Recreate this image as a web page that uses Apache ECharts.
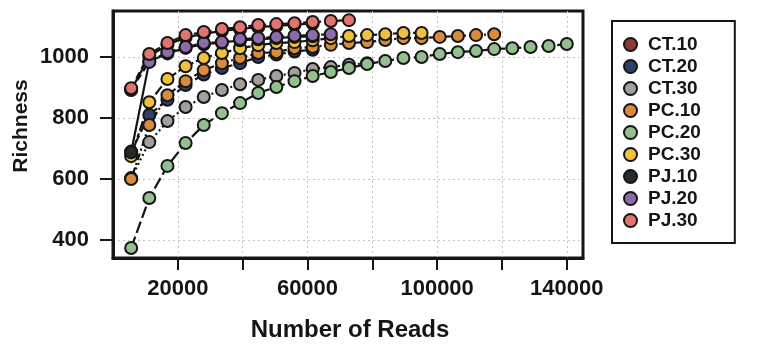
<!DOCTYPE html>
<html>
<head>
<meta charset="utf-8">
<script src="https://cdn.jsdelivr.net/npm/echarts@6/dist/echarts.min.js"></script>
<style>
html,body{margin:0;padding:0;background:#fff;}
#chart{width:772px;height:354px;}
</style>
</head>
<body>
<div id="chart"></div>
<script>
// Rarefaction depths (Number of Reads)
const reads = [5600, 11200, 16800, 22400, 28000, 33600, 39200, 44800, 50400, 56000, 61600, 67200, 72800,
  78400, 84000, 89600, 95200, 100800, 106400, 112000, 117600, 123200, 128800, 134400, 140000];

const seriesNames = ['CT.10', 'CT.20', 'CT.30', 'PC.10', 'PC.20', 'PC.30', 'PJ.10', 'PJ.20', 'PJ.30'];

// Richness values per sample
const ct10 = [892, 1002, 1040, 1064, 1076, 1086, 1092, 1098, 1102, 1106, 1110];
const ct20 = [690, 810, 860, 908, 943, 964, 980, 1000, 1008, 1018, 1024];
const ct30 = [603, 721, 790, 836, 869, 892, 911, 925, 938, 948, 961, 967, 975, 980];
const pc10 = [600, 777, 875, 921, 957, 980, 997, 1013, 1016, 1029, 1033, 1040, 1046, 1049, 1056, 1062, 1062, 1066, 1069, 1072, 1075];
const pc20 = [374, 538, 643, 718, 777, 816, 849, 882, 902, 921, 938, 951, 964, 977, 987, 997, 1000, 1010, 1016, 1020, 1026, 1029, 1033, 1036, 1043];
const pc30 = [675, 852, 928, 970, 997, 1013, 1029, 1039, 1046, 1049, 1055, 1062, 1069, 1072, 1075, 1079, 1079];
const pj10 = [688, 985, 1012, 1030, 1042, 1047, 1055, 1058, 1062, 1066, 1068];
const pj20 = [893, 984, 1016, 1033, 1046, 1049, 1059, 1062, 1066, 1070, 1072, 1075];
const pj30 = [898, 1010, 1046, 1072, 1082, 1092, 1098, 1105, 1108, 1111, 1115, 1118, 1121];

const values = [ct10, ct20, ct30, pc10, pc20, pc30, pj10, pj20, pj30];
const colors = ['#8c3a33', '#2f3f6c', '#a29e9a', '#d98b3c', '#93c08e', '#f1c03c', '#2b2927', '#8b6ba9', '#e27470'];
const dashes = ['solid', [7, 4], [2, 3], [2, 3, 7, 3], [12, 4], [4, 3, 10, 3], 'solid', [7, 4], [7, 4]];

const xTicks = [20000, 40000, 60000, 80000, 100000, 120000, 140000];
const xLabels = [20000, 60000, 100000, 140000];
const yTicks = [400, 600, 800, 1000];

const font = 'Liberation Sans, Arial, Helvetica, sans-serif';

function pairs(vals) { return vals.map((v, i) => [reads[i], v]); }

const series = [];
seriesNames.forEach((name, k) => {
  series.push({
    name: name + '_line', type: 'line', data: pairs(values[k]), symbol: 'none', silent: true,
    z: 1, lineStyle: { color: '#151515', width: 2.2, type: dashes[k] }, animation: false
  });
});
seriesNames.forEach((name, k) => {
  series.push({
    name: name, type: 'scatter', data: pairs(values[k]), symbol: 'circle', symbolSize: 12,
    z: 3, itemStyle: { color: colors[k], borderColor: '#151515', borderWidth: 2, opacity: 1 },
    animation: false
  });
});

const chart = echarts.init(document.getElementById('chart'), null, { renderer: 'canvas' });
chart.setOption({
  backgroundColor: '#ffffff',
  animation: false,
  grid: { left: 113, right: 189, top: 11, bottom: 96, show: true, borderColor: '#151515', borderWidth: 3, backgroundColor: '#ffffff' },
  xAxis: {
    type: 'value', min: 0, max: 145000, interval: 20000,
    axisLine: { show: true, lineStyle: { color: '#151515', width: 3 } },
    axisTick: { show: true, length: 12, customValues: xTicks, lineStyle: { color: '#151515', width: 2 } },
    axisLabel: { customValues: xLabels, formatter: v => String(v), fontSize: 22, fontWeight: 'bold', fontFamily: font, color: '#151515', margin: 20 },
    splitLine: { show: true, lineStyle: { color: '#c4c4c4', width: 1, type: [2, 3] } }
  },
  yAxis: {
    type: 'value', min: 341, max: 1151, splitNumber: 4,
    axisLine: { show: true, lineStyle: { color: '#151515', width: 3 } },
    axisTick: { show: true, length: 13, customValues: yTicks, lineStyle: { color: '#151515', width: 2 } },
    axisLabel: { customValues: yTicks, formatter: v => String(v), fontSize: 22, fontWeight: 'bold', fontFamily: font, color: '#151515', margin: 24 },
    splitLine: { show: true, lineStyle: { color: '#c4c4c4', width: 1, type: [2, 3] } }
  },
  legend: {
    data: seriesNames, orient: 'vertical', left: 612, top: 21,
    itemWidth: 13, itemHeight: 13, itemGap: 3, icon: 'circle',
    padding: [14, 34, 13, 11], borderColor: '#151515', borderWidth: 2, backgroundColor: '#ffffff',
    textStyle: { fontSize: 19, fontWeight: 'bold', fontFamily: font, color: '#151515', padding: [0, 0, 0, 6] }
  },
  graphic: [
    { type: 'text', x: 21, y: 126, rotation: Math.PI / 2,
      style: { text: 'Richness', fontSize: 21, fontWeight: 'bold', fontFamily: font, fill: '#151515', textAlign: 'center', textVerticalAlign: 'middle' } },
    { type: 'text', x: 350, y: 330,
      style: { text: 'Number of Reads', fontSize: 24, fontWeight: 'bold', fontFamily: font, fill: '#151515', textAlign: 'center', textVerticalAlign: 'middle' } }
  ],
  series: series
});
</script>
</body>
</html>
